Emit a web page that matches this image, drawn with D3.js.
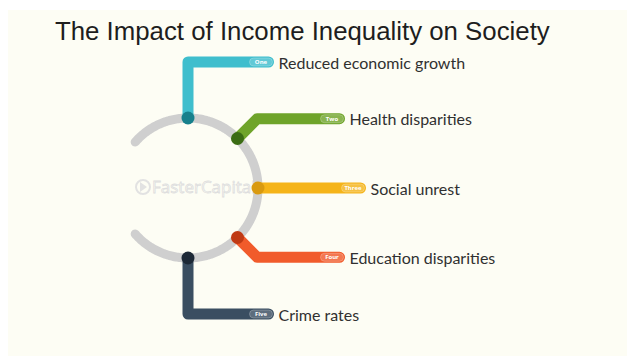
<!DOCTYPE html>
<html>
<head>
<meta charset="utf-8">
<script src="https://cdn.jsdelivr.net/npm/d3@7/dist/d3.min.js"></script>
<style>
  html, body { margin: 0; padding: 0; background: #ffffff; }
  svg { display: block; }
</style>
</head>
<body>
<svg id="chart" width="627" height="356"></svg>
<script>
// ---- data ----
const title = "The Impact of Income Inequality on Society";
const categories = ["Reduced economic growth", "Health disparities", "Social unrest", "Education disparities", "Crime rates"];
const ordinals = ["One", "Two", "Three", "Four", "Five"];
const barColors = ["#3fbecd", "#6fa42a", "#f5b419", "#f15b2b", "#3a4e61"];
const dotColors = ["#17808c", "#3b6c14", "#d99a10", "#c03a14", "#1d2936"];
const watermark = "FasterCapital";

// ---- layout ----
const svg = d3.select("#chart");
const W = 627, H = 356;
const cx = 188, cy = 188, R = 70;

svg.append("rect").attr("x", 8).attr("y", 10).attr("width", W - 8).attr("height", H - 10)
  .attr("fill", "#fdfdf4");

// title
svg.append("text")
  .attr("x", 55).attr("y", 40)
  .attr("font-family", "'Liberation Sans', Arial, sans-serif")
  .attr("font-size", 24)
  .attr("fill", "#1e1e1e")
  .text(title)
  .each(function () {
    const target = 495;
    const w = this.getComputedTextLength();
    d3.select(this).attr("font-size", 24 * target / w);
  });

// watermark
const wm = svg.append("g");
wm.append("circle").attr("cx", 143).attr("cy", 187).attr("r", 7)
  .attr("fill", "none").attr("stroke", "#e2e2e2").attr("stroke-width", 2);
wm.append("path").attr("d", "M140,182 L147,187 L140,192 Z").attr("fill", "#e2e2e2");
wm.append("text").attr("x", 152).attr("y", 193)
  .attr("font-family", "'Open Sans', sans-serif").attr("font-size", 17)
  .attr("fill", "none").attr("stroke", "#dedede").attr("stroke-width", 0.8)
  .text(watermark);

// scales
const angle = d3.scalePoint().domain(categories).range([-90, 90]);
const ext = d3.scaleLinear().domain([0, 90]).range([0, 56]);
const endX = d3.scaleLinear().domain([0, 45, 90]).range([360.5, 339.5, 268.5]);
const rad = a => a * Math.PI / 180;

// gray ring arc (open to the left)
const ringPts = d3.range(-139, 139.1, 1).map(d => [rad(d + 90), R]);
svg.append("path")
  .attr("transform", `translate(${cx},${cy})`)
  .attr("d", d3.lineRadial().angle(d => d[0]).radius(d => d[1])(ringPts))
  .attr("fill", "none").attr("stroke", "#cfcfcf").attr("stroke-width", 9)
  .attr("stroke-linecap", "round");

const line = d3.line();
const items = categories.map((c, i) => {
  const a = angle(c);
  const jx = cx + R * Math.cos(rad(a)), jy = cy + R * Math.sin(rad(a));
  const e = ext(Math.abs(a));
  const ex = cx + (R + e) * Math.cos(rad(a)), ey = cy + (R + e) * Math.sin(rad(a));
  return { c, i, a, jx, jy, ex, ey, x2: endX(Math.abs(a)) };
});

const g = svg.append("g");
items.forEach(d => {
  g.append("path")
    .attr("d", line([[d.jx, d.jy], [d.ex, d.ey], [d.x2, d.ey]]))
    .attr("fill", "none").attr("stroke", barColors[d.i]).attr("stroke-width", 11)
    .attr("stroke-linecap", "round").attr("stroke-linejoin", "round");
  g.append("circle").attr("cx", d.jx).attr("cy", d.jy).attr("r", 6.5).attr("fill", dotColors[d.i]);
  // ordinal pill
  g.append("rect").attr("x", d.x2 - 19).attr("y", d.ey - 4).attr("width", 23).attr("height", 8)
    .attr("rx", 4).attr("fill", "#ffffff").attr("fill-opacity", 0.18)
    .attr("stroke", "#ffffff").attr("stroke-opacity", 0.3).attr("stroke-width", 0.8);
  g.append("text").attr("x", d.x2 - 7.5).attr("y", d.ey + 2.2)
    .attr("text-anchor", "middle")
    .attr("font-family", "'Open Sans', sans-serif").attr("font-size", 6).attr("font-weight", "bold")
    .attr("fill", "#ffffff").text(ordinals[d.i]);
  g.append("text").attr("x", d.x2 + 10).attr("y", d.ey + 1)
    .attr("dy", "0.35em")
    .attr("font-family", "Lato, 'Open Sans', sans-serif").attr("font-size", 16)
    .attr("fill", "#303030").text(d.c);
});
</script>
</body>
</html>
